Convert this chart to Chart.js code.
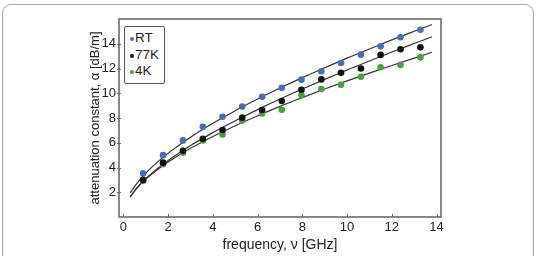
<!DOCTYPE html>
<html>
<head>
<meta charset="utf-8">
<script src="https://cdn.jsdelivr.net/npm/chart.js@4.4.1/dist/chart.umd.min.js"></script>
<style>
  html, body { margin: 0; padding: 0; background: #fff; overflow: hidden; }
  body { width: 537px; height: 256px; position: relative; font-family: "Liberation Sans", Arial, sans-serif; }
  #frame { position: absolute; left: 2px; top: 4px; width: 532px; height: 300px;
           border: 1px solid #a8a8a8; border-radius: 9px; box-sizing: border-box; }
  #chart { position: absolute; left: 0; top: 0; }
  #legend { position: absolute; left: 124px; top: 26px; width: 41px; height: 58px; box-sizing: border-box;
            border: 1px solid #555; border-radius: 2px; background: #fff; padding: 3px 0 0 5px; }
  .item { font-size: 13.5px; line-height: 16.5px; color: #222; white-space: nowrap; }
  .dot { display: inline-block; width: 4px; height: 4px; border-radius: 50%; margin-right: 1px; vertical-align: 1px; }
</style>
</head>
<body>
<div id="frame"></div>
<canvas id="chart" width="537" height="256"></canvas>
<div id="legend"></div>
<script>
/* ── Data ── */
const freq   = [0.88, 1.77, 2.66, 3.55, 4.43, 5.31, 6.2, 7.08, 7.96, 8.85, 9.73, 10.62, 11.5, 12.39, 13.28];
const alphaRT  = [3.53, 5.0, 6.19, 7.29, 8.1, 8.93, 9.71, 10.44, 11.1, 11.78, 12.45, 13.12, 13.79, 14.52, 15.13];
const alpha77K = [3.0, 4.39, 5.35, 6.32, 7.03, 8.03, 8.65, 9.37, 10.28, 11.12, 11.65, 12.0, 13.1, 13.55, 13.71];
const alpha4K  = [2.92, 4.26, 5.19, 6.19, 6.67, 7.79, 8.37, 8.67, 9.83, 10.34, 10.68, 11.33, 12.1, 12.29, 12.9];
const err4K    = [0, 0, 0, 0, 0, 0, 0, 0, 0, 0, 0, 0, 0, 0, 0.28];

/* fit curves */
const fitFreq = [0.3, 0.6, 1, 1.5, 2, 3, 4, 5, 6, 7, 8, 9, 10, 11, 12, 13, 13.8];
const fitRT   = [1.95, 2.71, 3.55, 4.41, 5.16, 6.45, 7.57, 8.59, 9.53, 10.42, 11.26, 12.06, 12.84, 13.58, 14.31, 15.01, 15.56];
const fit77K  = [1.63, 2.36, 3.11, 3.89, 4.57, 5.77, 6.82, 7.78, 8.68, 9.53, 10.34, 11.12, 11.88, 12.61, 13.33, 14.02, 14.57];
const fit4K   = [1.63, 2.34, 3.06, 3.8, 4.44, 5.55, 6.51, 7.38, 8.18, 8.94, 9.65, 10.34, 11.0, 11.63, 12.24, 12.84, 13.31];

const xTicks = [0, 2, 4, 6, 8, 10, 12, 14];
const yTicks = [2, 4, 6, 8, 10, 12, 14];

const seriesNames  = ['RT', '77K', '4K'];
const seriesColors = ['#4a6db0', '#111111', '#4f9b45'];

const pts = (xs, ys) => xs.map((x, i) => ({ x, y: ys[i] }));

/* ── Legend (HTML) ── */
document.getElementById('legend').innerHTML = seriesNames.map((n, i) =>
  `<div class="item"><span class="dot" style="background:${seriesColors[i]}"></span>${n}</div>`).join('');

/* ── Plugins: box frame, inward ticks, error bars ── */
const frameAndTicks = {
  id: 'frameAndTicks',
  afterDatasetsDraw(chart) {
    const { ctx, chartArea: a, scales: { x, y } } = chart;
    ctx.save();
    // error bars on 4K set
    ctx.strokeStyle = seriesColors[2];
    ctx.lineWidth = 1.2;
    freq.forEach((f, i) => {
      if (!err4K[i]) return;
      const px = x.getPixelForValue(f);
      ctx.beginPath();
      ctx.moveTo(px, y.getPixelForValue(alpha4K[i] - err4K[i]));
      ctx.lineTo(px, y.getPixelForValue(alpha4K[i] + err4K[i]));
      ctx.stroke();
    });
    // box
    ctx.strokeStyle = '#6a6a6a';
    ctx.lineWidth = 1.6;
    ctx.strokeRect(a.left, a.top, a.right - a.left, a.bottom - a.top);
    // ticks
    ctx.lineWidth = 1;
    ctx.beginPath();
    xTicks.forEach(v => {
      const px = Math.round(x.getPixelForValue(v)) + 0.5;
      ctx.moveTo(px, a.bottom);
      ctx.lineTo(px, a.bottom - 3);
    });
    yTicks.forEach(v => {
      const py = Math.round(y.getPixelForValue(v)) + 0.5;
      ctx.moveTo(a.left - 2, py);
      ctx.lineTo(a.left + 2, py);
    });
    ctx.stroke();
    ctx.restore();
  }
};

const tickFont   = { family: '"Liberation Sans", Arial, sans-serif', size: 13 };
const xTitleFont = { family: '"Liberation Sans", Arial, sans-serif', size: 14 };
const yTitleFont = { family: '"Liberation Sans", Arial, sans-serif', size: 13 };

new Chart(document.getElementById('chart'), {
  type: 'scatter',
  data: {
    datasets: [
      { label: 'RT',  data: pts(freq, alphaRT),  backgroundColor: seriesColors[0], pointRadius: 3.3, borderWidth: 0, order: 0 },
      { label: '77K', data: pts(freq, alpha77K), backgroundColor: seriesColors[1], pointRadius: 3.3, borderWidth: 0, order: 0 },
      { label: '4K',  data: pts(freq, alpha4K),  backgroundColor: seriesColors[2], pointRadius: 3.3, borderWidth: 0, order: 0 },
      { label: 'fit RT',  data: pts(fitFreq, fitRT),  showLine: true, borderColor: '#333', borderWidth: 1.2, pointRadius: 0, cubicInterpolationMode: 'monotone', order: 1 },
      { label: 'fit 77K', data: pts(fitFreq, fit77K), showLine: true, borderColor: '#333', borderWidth: 1.2, pointRadius: 0, cubicInterpolationMode: 'monotone', order: 1 },
      { label: 'fit 4K',  data: pts(fitFreq, fit4K),  showLine: true, borderColor: '#333', borderWidth: 1.2, pointRadius: 0, cubicInterpolationMode: 'monotone', order: 1 },
    ],
  },
  options: {
    responsive: false,
    animation: false,
    devicePixelRatio: 1,
    layout: { padding: { left: 83, right: 96, top: 19, bottom: 0 } },
    plugins: { legend: { display: false }, tooltip: { enabled: false } },
    scales: {
      x: {
        type: 'linear', min: -0.2, max: 14.2,
        afterBuildTicks: s => { s.ticks = xTicks.map(v => ({ value: v })); },
        afterFit: s => { s.height = 39; },
        grid: { display: false, drawTicks: false },
        border: { display: false },
        ticks: { color: '#222', font: tickFont, padding: 3, maxRotation: 0 },
        title: { display: true, text: 'frequency, ν [GHz]', color: '#222', font: xTitleFont, padding: { top: 0, bottom: 2 } },
      },
      y: {
        type: 'linear', min: 0, max: 16,
        afterBuildTicks: s => { s.ticks = yTicks.map(v => ({ value: v })); },
        afterFit: s => { s.width = 36; },
        grid: { display: false, drawTicks: false },
        border: { display: false },
        ticks: { color: '#222', font: tickFont, padding: 3 },
        title: { display: true, text: 'attenuation constant, α [dB/m]', color: '#222', font: yTitleFont, padding: { top: 5, bottom: 0 } },
      },
    },
  },
  plugins: [frameAndTicks],
});
</script>
</body>
</html>
